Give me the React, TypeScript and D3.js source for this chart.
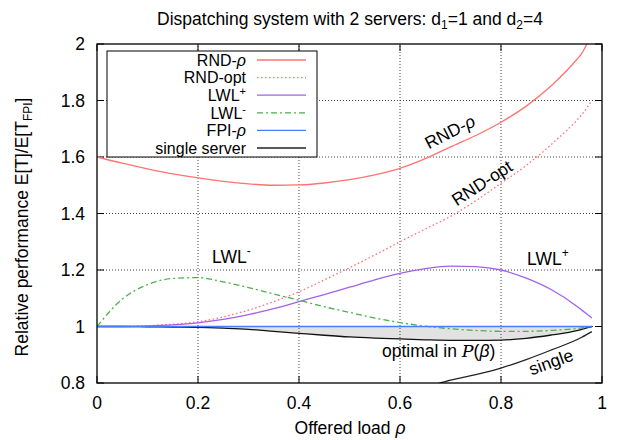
import React from "react";
import * as d3 from "d3";

// Offered load samples shared by every series
const loads = [0, 0.05, 0.1, 0.15, 0.2, 0.25, 0.3, 0.35, 0.4, 0.45, 0.5, 0.55, 0.6, 0.65, 0.7, 0.75, 0.8, 0.85, 0.9, 0.95, 0.96, 0.98];

// Relative performance E[T]/E[T_FPI] per policy
const rndRho = [1.6, 1.578, 1.558, 1.54, 1.526, 1.514, 1.505, 1.5, 1.501, 1.508, 1.52, 1.537, 1.56, 1.594, 1.636, 1.676, 1.723, 1.78, 1.853, 1.945, 1.967, 2.04];
const rndOpt = [1.0, 1.001, 1.003, 1.008, 1.017, 1.034, 1.058, 1.088, 1.123, 1.165, 1.208, 1.253, 1.3, 1.345, 1.39, 1.445, 1.507, 1.57, 1.645, 1.73, 1.75, 1.8];
const lwlPlus = [1.0, 1.0, 1.002, 1.006, 1.013, 1.025, 1.042, 1.063, 1.088, 1.113, 1.139, 1.165, 1.188, 1.205, 1.214, 1.212, 1.2, 1.171, 1.13, 1.072, 1.058, 1.03];
const lwlMinus = [1.0, 1.097, 1.148, 1.17, 1.173, 1.158, 1.138, 1.115, 1.093, 1.07, 1.05, 1.03, 1.014, 1.001, 0.992, 0.986, 0.983, 0.983, 0.986, 0.993, 0.995, 1.0];
const fpiRho = [1, 1, 1, 1, 1, 1, 1, 1, 1, 1, 1, 1, 1, 1, 1, 1, 1, 1, 1, 1, 1, 1];
const optimalBeta = [1.0, 1.0, 0.999, 0.998, 0.997, 0.994, 0.99, 0.983, 0.976, 0.969, 0.963, 0.959, 0.956, 0.953, 0.951, 0.951, 0.952, 0.958, 0.97, 0.985, 0.99, 1.0];
const singleServer: (number | null)[] = [null, null, null, null, null, null, null, null, null, null, null, null, 0.765, 0.785, 0.81, 0.83, 0.853, 0.883, 0.917, 0.953, 0.962, 0.982];

const xTicks = [0, 0.2, 0.4, 0.6, 0.8, 1];
const xTickLabels = ["0", "0.2", "0.4", "0.6", "0.8", "1"];
const yTicks = [0.8, 1, 1.2, 1.4, 1.6, 1.8, 2];
const yTickLabels = ["0.8", "1", "1.2", "1.4", "1.6", "1.8", "2"];

const W = 621;
const H = 440;
const FONT = "'Liberation Sans', Arial, Helvetica, sans-serif";
const FS = 17.5;
const LEG_FS = 16;
const SUB = 12;

const x = d3.scaleLinear().domain([0, 1]).range([97, 602]);
const y = d3.scaleLinear().domain([0.8, 2]).range([383, 44]);

type Pt = [number, number | null];
const pts = (vals: (number | null)[]): Pt[] => loads.map((l, i) => [l, vals[i]]);

const line = d3
  .line<Pt>()
  .defined((d) => d[1] != null)
  .x((d) => x(d[0]))
  .y((d) => y(d[1] as number))
  .curve(d3.curveMonotoneX);

const band = d3
  .area<number>()
  .x((_, i) => x(loads[i]))
  .y0((d) => y(d))
  .y1((_, i) => y(fpiRho[i]))
  .curve(d3.curveMonotoneX);

const series = [
  { name: "RND-", greek: "ρ", sup: "", values: rndRho, color: "#ff7373", dash: "" },
  { name: "RND-opt", greek: "", sup: "", values: rndOpt, color: "#ff7373", dash: "1.6 2.4" },
  { name: "LWL", greek: "", sup: "+", values: lwlPlus, color: "#a361e8", dash: "" },
  { name: "LWL", greek: "", sup: "-", values: lwlMinus, color: "#4cb04c", dash: "6 3 2 3" },
  { name: "FPI-", greek: "ρ", sup: "", values: fpiRho, color: "#4a7cff", dash: "" },
  { name: "single server", greek: "", sup: "", values: singleServer, color: "#222222", dash: "" },
];

const [x0, x1] = x.range();
const [yb, yt] = y.range();

export default function App() {
  const legendX = 107;
  const legendY = 51;
  const legendW = 210;
  const legendH = 106;
  const rowH = 17.6;

  return (
    <svg
      width={W}
      height={H}
      viewBox={`0 0 ${W} ${H}`}
      style={{ position: "absolute", left: 0, top: 0, display: "block", background: "#fff" }}
      fontFamily={FONT}
    >
      <defs>
        <clipPath id="plot-area">
          <rect x={x0} y={yt} width={x1 - x0} height={yb - yt} />
        </clipPath>
      </defs>

      {/* title */}
      <text x={350} y={25} textAnchor="middle" fontSize={FS} fill="#000">
        Dispatching system with 2 servers: d
        <tspan fontSize={SUB} dy={4}>1</tspan>
        <tspan dy={-4}>=1 and d</tspan>
        <tspan fontSize={SUB} dy={4}>2</tspan>
        <tspan dy={-4}>=4</tspan>
      </text>

      {/* shaded region: optimal in P(beta) */}
      <path d={band(optimalBeta) || ""} fill="#e2e2e2" stroke="none" clipPath="url(#plot-area)" />

      {/* grid */}
      <g stroke="#444" strokeWidth={1} strokeDasharray="1 2">
        {xTicks.slice(1, -1).map((t) => (
          <line key={`gx${t}`} x1={x(t)} x2={x(t)} y1={yb} y2={yt} />
        ))}
        {yTicks.slice(1, -1).map((t) => (
          <line key={`gy${t}`} x1={x0} x2={x1} y1={y(t)} y2={y(t)} />
        ))}
      </g>

      {/* tick marks on all four sides */}
      <g stroke="#000" strokeWidth={1}>
        {xTicks.map((t) => (
          <g key={`tx${t}`}>
            <line x1={x(t)} x2={x(t)} y1={yb} y2={yb - 7} />
            <line x1={x(t)} x2={x(t)} y1={yt} y2={yt + 7} />
          </g>
        ))}
        {yTicks.map((t) => (
          <g key={`ty${t}`}>
            <line x1={x0} x2={x0 + 7} y1={y(t)} y2={y(t)} />
            <line x1={x1} x2={x1 - 7} y1={y(t)} y2={y(t)} />
          </g>
        ))}
      </g>

      {/* data */}
      <g clipPath="url(#plot-area)" fill="none" strokeWidth={1.3}>
        <path d={line(pts(optimalBeta)) || ""} stroke="#111" />
        {series.map((s, i) => (
          <path
            key={i}
            d={line(pts(s.values)) || ""}
            stroke={s.color}
            strokeDasharray={s.dash || undefined}
          />
        ))}
      </g>

      {/* frame */}
      <rect x={x0} y={yt} width={x1 - x0} height={yb - yt} fill="none" stroke="#000" strokeWidth={1.3} />

      {/* tick labels */}
      <g fontSize={FS} fill="#000">
        {xTicks.map((t, i) => (
          <text key={`lx${t}`} x={x(t)} y={409} textAnchor="middle">
            {xTickLabels[i]}
          </text>
        ))}
        {yTicks.map((t, i) => (
          <text key={`ly${t}`} x={85} y={y(t) + 6.2} textAnchor="end">
            {yTickLabels[i]}
          </text>
        ))}
      </g>

      {/* axis titles */}
      <text x={350} y={434} textAnchor="middle" fontSize={FS}>
        Offered load <tspan fontStyle="italic">ρ</tspan>
      </text>
      <text transform="translate(28,227) rotate(-90)" textAnchor="middle" fontSize={FS}>
        Relative performance E[T]/E[T
        <tspan fontSize={SUB} dy={4}>FPI</tspan>
        <tspan dy={-4}>]</tspan>
      </text>

      {/* curve annotations */}
      <g fontSize={FS} fill="#000">
        <text transform="translate(450,132) rotate(-27)" textAnchor="middle" dominantBaseline="central">
          RND-<tspan fontStyle="italic">ρ</tspan>
        </text>
        <text transform="translate(482,183) rotate(-33)" textAnchor="middle" dominantBaseline="central">
          RND-opt
        </text>
        <text x={212} y={263}>
          LWL<tspan fontSize={SUB} dy={-8}>-</tspan>
        </text>
        <text x={527} y={265}>
          LWL<tspan fontSize={SUB} dy={-8}>+</tspan>
        </text>
        <text x={382} y={357}>
          optimal in <tspan fontFamily="'DejaVu Serif', serif" fontStyle="italic">P</tspan>(
          <tspan fontStyle="italic">β</tspan>)
        </text>
        <text transform="translate(551,362) rotate(-20)" textAnchor="middle" dominantBaseline="central">
          single
        </text>
      </g>

      {/* legend */}
      <g>
        <rect x={legendX} y={legendY} width={legendW} height={legendH} fill="#fff" stroke="#000" strokeWidth={1} />
        {series.map((s, i) => {
          const cy = legendY + 9 + i * rowH;
          return (
            <g key={`lg${i}`}>
              <text x={246} y={cy + 5.7} textAnchor="end" fontSize={LEG_FS}>
                {s.name}
                {s.greek ? <tspan fontStyle="italic">{s.greek}</tspan> : null}
                {s.sup ? (
                  <tspan fontSize={11} dy={-6}>
                    {s.sup}
                  </tspan>
                ) : null}
              </text>
              <line
                x1={257}
                x2={306}
                y1={cy}
                y2={cy}
                stroke={s.color}
                strokeWidth={1.3}
                strokeDasharray={s.dash || undefined}
              />
            </g>
          );
        })}
      </g>
    </svg>
  );
}
